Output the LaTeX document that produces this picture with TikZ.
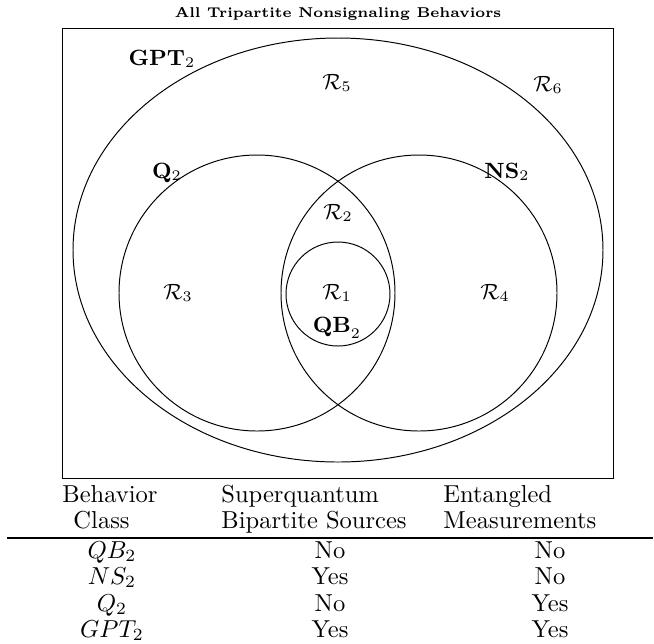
\documentclass[tikz,border=0pt]{standalone}
\usepackage{tikz}
\usepackage{amsmath}

\begin{document}
\begin{tikzpicture}[x=0.408pt,y=-0.408pt]
\useasboundingbox (0,0) rectangle (654,643);
\node[scale=0.92] (title) at (338,14) {\fontsize{6.3}{7.5}\selectfont\bfseries All Tripartite Nonsignaling Behaviors};
\draw[line width=0.4pt] (62,28) rectangle (613,478);
\draw[line width=0.4pt] (338,250) ellipse [x radius=265, y radius=212];
\draw[line width=0.4pt] (257,293) circle [radius=138];
\draw[line width=0.4pt] (419,293) circle [radius=138];
\draw[line width=0.4pt] (338,294) circle [radius=52];
\node (gpt) at (162,59) {\small $\mathbf{GPT}_2$};
\node (rfive) at (337,83) {\small $\mathcal{R}_5$};
\node (rsix) at (548,85) {\small $\mathcal{R}_6$};
\node (q) at (167,173) {\small $\mathbf{Q}_2$};
\node (ns) at (507,172) {\small $\mathbf{NS}_2$};
\node (rtwo) at (338,213) {\small $\mathcal{R}_2$};
\node (rthree) at (178,293) {\small $\mathcal{R}_3$};
\node (rone) at (337,293) {\small $\mathcal{R}_1$};
\node (rfour) at (495,293) {\small $\mathcal{R}_4$};
\node (qb) at (337,328) {\small $\mathbf{QB}_2$};
% table
\node[anchor=base west,inner sep=0pt] (hclass) at (62,502) {Behavior};
\node[anchor=base west,inner sep=0pt] (hclassb) at (73,528) {Class};
\node[anchor=base west,inner sep=0pt] (hsuper) at (221,502) {Superquantum};
\node[anchor=base west,inner sep=0pt] (hsuperb) at (221,528) {Bipartite Sources};
\node[anchor=base west,inner sep=0pt] (hent) at (443,502) {Entangled};
\node[anchor=base west,inner sep=0pt] (hentb) at (443,528) {Measurements};
\draw[line width=0.8pt] (7,538) -- (653,538);
\node[anchor=base] (cqb) at (112,558) {$QB_2$};
\node[anchor=base] (sqb) at (330,558) {No};
\node[anchor=base] (eqb) at (550,558) {No};
\node[anchor=base] (cns) at (112,584) {$NS_2$};
\node[anchor=base] (sns) at (330,584) {Yes};
\node[anchor=base] (ens) at (550,584) {No};
\node[anchor=base] (cq) at (112,611) {$Q_2$};
\node[anchor=base] (sq) at (330,611) {No};
\node[anchor=base] (eq) at (550,611) {Yes};
\node[anchor=base] (cgpt) at (112,637) {$GPT_2$};
\node[anchor=base] (sgpt) at (330,637) {Yes};
\node[anchor=base] (egpt) at (550,637) {Yes};
\end{tikzpicture}
\end{document}
